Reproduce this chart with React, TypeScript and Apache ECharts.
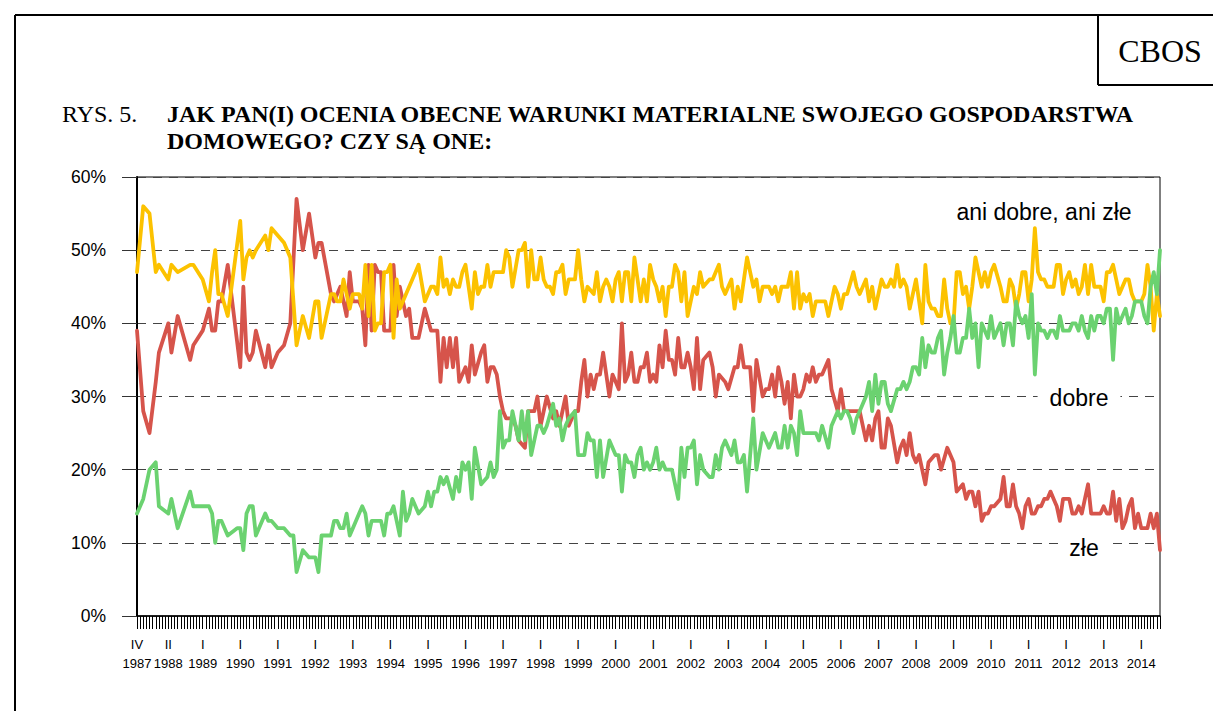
import React, { useEffect, useRef } from "react";
import * as echarts from "echarts";

// ---- DATA ----
const START_YEAR = 1987;
const START_MONTH = 4;
const N_MONTHS = 328;
const months: string[] = Array.from({ length: N_MONTHS }, (_, i) => {
  const m = START_MONTH - 1 + i;
  return `${START_YEAR + Math.floor(m / 12)}-${String((m % 12) + 1).padStart(2, "0")}`;
});
const labelMonths = [
  "1987-04", "1988-02", "1989-01", "1990-01", "1991-01", "1992-01", "1993-01", "1994-01",
  "1995-01", "1996-01", "1997-01", "1998-01", "1999-01", "2000-01", "2001-01", "2002-01",
  "2003-01", "2004-01", "2005-01", "2006-01", "2007-01", "2008-01", "2009-01", "2010-01",
  "2011-01", "2012-01", "2013-01", "2014-01",
];
const roman = ["I", "II", "III", "IV", "V", "VI", "VII", "VIII", "IX", "X", "XI", "XII"];

// [month index from 1987-04, value %]
const aniDobreAniZle: [number, number][] = [
  [0,47],[2,56],[4,55],[6,47],[7,48],[10,46],[11,48],[13,47],[17,48],[18,48],[21,46],[23,43],[24,47],[25,50],[26,44],[27,44],[29,41],[33,54],[34,46],[35,49],[36,50],[37,49],[38,50],[41,52],[42,50],[43,53],[45,52],[47,51],[49,49],[51,37],[53,41],[55,38],[57,43],[58,43],[59,38],
  [62,44],[63,44],[64,43],[65,43],[66,46],[67,44],[68,42],[69,44],[71,44],[72,42],[73,48],[74,41],[75,48],[76,39],[77,40],[78,40],[79,47],[80,47],[81,48],[82,38],[83,46],[84,42],[86,44],[88,46],[90,48],[92,43],[94,45],[95,45],[96,44],[97,49],[98,45],[99,46],[100,44],[101,46],[102,45],[103,45],[104,47],[105,48],[107,42],[108,47],[109,44],[110,45],
  [111,45],[112,48],[113,45],[114,47],[115,47],[117,47],[118,50],[119,49],[120,45],[122,50],[123,50],[124,51],[125,45],[126,50],[127,46],[128,46],[129,49],[130,46],[131,45],[132,45],[133,44],[134,47],[135,47],[136,48],[137,44],[138,46],[140,46],[141,50],[142,46],[143,43],[144,45],[146,44],[147,47],[148,43],[149,45],[150,46],[151,45],[152,43],[153,46],[154,47],[155,43],[156,47],[157,47],[158,43],[159,49],[160,46],
  [161,43],[162,46],[163,43],[164,48],[165,46],[166,45],[167,43],[168,45],[169,41],[170,45],[171,45],[172,48],[173,47],[174,43],[175,47],[176,41],[177,43],[178,45],[179,44],[180,47],[181,45],[183,46],[184,46],[185,47],[186,48],[187,45],[188,44],[190,46],[191,42],[192,45],[193,43],[195,49],[196,47],[197,45],[198,46],[199,43],[200,45],[201,45],[202,45],[203,44],[204,45],[205,43],[206,45],[208,45],[209,47],[210,42],
  [211,47],[212,42],[213,44],[214,43],[215,44],[216,41],[217,43],[218,43],[219,43],[220,43],[221,41],[223,45],[224,44],[225,42],[226,44],[227,44],[229,47],[230,45],[231,44],[233,46],[234,43],[235,45],[236,42],[238,46],[239,45],[240,45],[241,46],[242,45],[243,48],[244,45],[245,46],[246,45],[247,42],[249,46],[251,40],[252,48],[253,43],[254,42],[255,42],[256,41],[257,41],[258,46],[259,42],[260,40],
  [261,40],[262,47],[263,47],[264,44],[265,45],[266,42],[267,45],[268,49],[270,45],[271,47],[272,45],[273,47],[274,48],[276,45],[277,43],[278,43],[279,46],[280,45],[281,42],[282,44],[283,47],[284,47],[285,43],[286,46],[287,53],[288,47],[289,46],[290,46],[291,45],[292,45],[293,45],[294,48],[295,48],[296,44],[297,46],[298,47],[299,45],[300,46],
  [301,44],[302,45],[303,48],[304,44],[305,48],[306,45],[307,45],[308,45],[309,43],[310,47],[311,47],[312,48],[313,46],[314,44],[315,45],[316,46],[317,46],[318,44],[319,43],[320,43],[321,43],[322,44],[323,48],[324,45],[325,39],[326,44],[327,41],
];

const zle: [number, number][] = [
  [0,39],[2,28],[4,25],[6,32],[7,36],[10,40],[11,36],[13,41],[17,35],[18,37],[21,39],[23,42],[24,39],[25,39],[26,43],[27,43],[29,48],[33,34],[34,45],[35,36],[36,35],[37,36],[38,39],[41,34],[42,37],[43,34],[45,36],[47,37],[49,40],[51,57],[53,50],[55,55],[57,49],[58,51],[59,51],
  [62,44],[63,43],[64,44],[65,45],[66,43],[67,41],[68,47],[69,43],[71,43],[72,42],[73,37],[74,48],[75,39],[76,48],[77,47],[78,47],[79,39],[80,39],[81,39],[82,48],[83,41],[84,45],[86,41],[87,42],[88,38],[90,38],[92,42],[94,39],[95,39],[96,39],[97,32],[98,38],[99,34],[100,38],[101,34],[102,38],[103,32],[105,34],[106,32],[107,37],[108,33],[110,36],
  [111,37],[112,32],[113,34],[114,34],[115,33],[116,30],[117,28],[118,27],[120,27],[121,26],[122,24],[124,23],[125,28],[127,28],[128,30],[129,26],[131,30],[133,27],[134,28],[135,26],[137,30],[138,26],[140,28],[141,28],[142,32],[143,35],[144,30],[145,33],[146,31],[147,33],[148,33],[149,36],[150,33],[151,30],[152,33],[153,32],[154,31],[155,40],[156,32],[157,33],[158,36],[159,32],[160,32],
  [161,34],[162,34],[163,36],[164,32],[165,33],[166,32],[167,37],[168,34],[169,39],[170,35],[171,35],[172,33],[173,38],[174,34],[175,34],[176,36],[177,34],[178,31],[179,38],[180,31],[181,35],[183,36],[184,34],[185,30],[186,33],[188,32],[189,31],[191,34],[192,34],[193,37],[194,34],[195,34],[196,34],[197,28],[198,35],[200,30],[201,31],[202,31],[203,33],[204,30],[205,34],[206,32],[207,29],[208,32],[209,27],[210,33],
  [211,30],[212,30],[213,31],[214,33],[215,32],[216,34],[217,32],[218,33],[219,33],[221,35],[222,31],[224,28],[225,31],[226,28],[227,28],[228,28],[229,28],[230,28],[231,28],[233,24],[234,26],[235,24],[236,27],[237,28],[238,23],[239,23],[240,27],[241,26],[243,21],[244,23],[245,24],[246,22],[247,25],[248,22],[249,21],[250,22],[252,18],[253,21],[255,22],[256,22],[257,20],[259,23],[260,22],
  [261,21],[262,17],[264,18],[265,16],[266,17],[267,17],[268,15],[269,17],[270,13],[271,14],[272,14],[273,15],[274,15],[276,16],[277,19],[278,15],[279,15],[280,18],[281,15],[282,14],[283,12],[284,15],[285,16],[286,14],[287,14],[288,15],[289,15],[290,16],[291,16],[292,17],[293,16],[294,15],[295,13],[296,16],[297,16],[298,16],[299,14],[300,14],
  [301,15],[302,14],[303,16],[304,18],[305,14],[306,14],[307,14],[308,14],[309,15],[310,14],[311,14],[312,17],[313,13],[314,16],[315,12],[316,13],[317,15],[318,16],[319,12],[320,14],[321,12],[322,12],[323,12],[324,14],[325,12],[326,14],[327,9],
];

const dobre: [number, number][] = [
  [0,14],[2,16],[4,20],[6,21],[7,15],[10,14],[11,16],[13,12],[17,17],[18,15],[21,15],[23,15],[24,14],[25,10],[26,13],[27,13],[29,11],[32,12],[33,12],[34,9],[35,14],[36,15],[37,15],[38,11],[41,14],[42,13],[43,13],[45,12],[47,12],[49,11],[50,11],[51,6],[53,9],[55,8],[57,8],[58,6],[59,11],
  [62,11],[63,13],[64,13],[65,12],[66,12],[67,14],[68,11],[69,12],[71,14],[72,15],[73,14],[74,11],[75,13],[77,13],[78,13],[79,11],[80,14],[81,14],[82,15],[83,13],[84,11],[85,17],[86,13],[87,14],[88,16],[90,14],[92,15],[93,17],[94,15],[95,17],[96,17],[97,19],[98,18],[99,19],[101,16],[102,19],[103,17],[104,21],[105,20],[106,21],[107,16],[108,23],[110,18],
  [112,19],[113,21],[114,19],[115,20],[116,28],[117,23],[118,24],[119,24],[120,28],[121,26],[122,24],[123,28],[124,24],[125,28],[126,22],[127,24],[128,26],[129,26],[130,25],[131,26],[133,29],[134,26],[135,27],[136,24],[137,26],[138,27],[140,28],[141,22],[143,22],[144,25],[145,24],[146,24],[147,19],[148,24],[149,19],[151,24],[153,22],[154,22],[155,17],[156,22],[157,21],[158,21],[159,19],[160,22],
  [161,23],[162,20],[163,21],[164,20],[165,21],[166,23],[167,20],[168,21],[169,20],[170,20],[171,20],[172,18],[173,16],[174,23],[175,19],[176,23],[177,23],[178,24],[179,18],[180,22],[181,20],[183,19],[184,19],[185,22],[186,20],[187,23],[188,24],[190,22],[191,24],[192,21],[193,21],[194,22],[195,17],[197,27],[198,20],[200,25],[201,24],[202,23],[203,24],[204,25],[205,23],[206,23],[207,26],[208,23],[209,26],[210,25],
  [211,22],[212,28],[213,25],[215,25],[216,25],[217,25],[218,24],[219,26],[221,23],[222,26],[224,28],[225,27],[226,28],[227,28],[228,27],[229,25],[230,27],[231,28],[233,30],[234,32],[235,28],[236,33],[237,29],[238,32],[239,32],[240,29],[241,28],[243,31],[244,31],[245,32],[246,31],[247,32],[248,34],[249,34],[250,33],[251,38],[252,34],[253,37],[254,36],[255,36],[256,38],[257,39],[258,33],[259,36],[260,38],
  [261,41],[262,36],[263,36],[264,38],[265,38],[266,42],[267,38],[268,40],[269,34],[270,40],[271,39],[272,38],[273,41],[274,38],[276,40],[277,37],[278,40],[279,40],[280,37],[281,43],[282,41],[283,40],[284,41],[285,38],[286,44],[287,33],[288,40],[289,39],[290,39],[291,38],[292,39],[293,39],[294,38],[295,41],[296,39],[297,39],[298,39],[299,40],[300,40],
  [301,39],[302,41],[303,39],[304,38],[305,41],[306,39],[307,41],[308,41],[309,40],[310,42],[311,42],[312,35],[313,42],[314,40],[315,41],[316,42],[317,40],[318,41],[319,43],[320,43],[321,43],[322,41],[323,40],[324,45],[325,47],[326,44],[327,50],
];

const yTicks = [0, 10, 20, 30, 40, 50, 60];

const SANS = "'Liberation Sans', Arial, sans-serif";
const SERIF = "'Liberation Serif', 'Times New Roman', serif";

export default function App() {
  const ref = useRef<HTMLDivElement>(null);
  useEffect(() => {
    if (!ref.current) return;
    const chart = echarts.init(ref.current, undefined, { renderer: "svg" });
    const labelSet = new Set(labelMonths);
    const lineSeries = (name: string, data: [number, number][], color: string, z: number) => ({
      name,
      type: "line",
      data,
      showSymbol: false,
      symbol: "none",
      connectNulls: true,
      z,
      lineStyle: { color, width: 3.8, join: "round", cap: "round" },
      itemStyle: { color },
    });
    chart.setOption({
      animation: false,
      backgroundColor: "#fff",
      grid: {
        left: 137,
        right: 53,
        top: 177,
        bottom: 95,
        show: true,
        borderColor: "#000",
        borderWidth: 1,
        backgroundColor: "transparent",
      },
      xAxis: {
        type: "category",
        data: months,
        boundaryGap: false,
        axisLine: { show: true, lineStyle: { color: "#000", width: 1.5 } },
        axisTick: { show: true, interval: 0, length: 13, lineStyle: { color: "#000", width: 1 } },
        axisLabel: {
          interval: (_i: number, v: string) => labelSet.has(v),
          formatter: (v: string) => {
            const [y, m] = v.split("-");
            return roman[parseInt(m, 10) - 1] + "\n" + y;
          },
          fontFamily: SANS,
          fontSize: 13,
          color: "#000",
          lineHeight: 19,
          margin: 19,
        },
        splitLine: { show: false },
      },
      yAxis: {
        type: "value",
        min: yTicks[0],
        max: yTicks[yTicks.length - 1],
        interval: 10,
        axisLine: { show: true, lineStyle: { color: "#000", width: 2 } },
        axisTick: { show: true, length: 15, lineStyle: { color: "#333", width: 1 } },
        axisLabel: {
          formatter: "{value}%",
          fontFamily: SANS,
          fontSize: 17.5,
          color: "#000",
          margin: 31,
        },
        splitLine: { show: true, lineStyle: { color: "#444", width: 1.2, type: [9, 7] } },
      },
      series: [
        lineSeries("złe", zle, "#D6544B", 3),
        lineSeries("ani dobre, ani złe", aniDobreAniZle, "#FCC200", 4),
        lineSeries("dobre", dobre, "#6BD270", 5),
      ],
      graphic: [
        { type: "line", shape: { x1: 15, y1: 15, x2: 1213, y2: 15 }, style: { stroke: "#000", lineWidth: 2 } },
        { type: "line", shape: { x1: 15, y1: 15, x2: 15, y2: 711 }, style: { stroke: "#000", lineWidth: 2 } },
        { type: "line", shape: { x1: 1098, y1: 15, x2: 1098, y2: 85 }, style: { stroke: "#000", lineWidth: 2 } },
        { type: "line", shape: { x1: 1098, y1: 85, x2: 1213, y2: 85 }, style: { stroke: "#000", lineWidth: 2 } },
        {
          type: "text", x: 1160, y: 51,
          style: { text: "CBOS", fill: "#000", font: `32px ${SERIF}`, align: "center", verticalAlign: "middle" },
        },
        {
          type: "text", x: 62, y: 114,
          style: { text: "RYS. 5.", fill: "#000", font: `24px ${SERIF}`, align: "left", verticalAlign: "middle" },
        },
        {
          type: "text", x: 167, y: 114,
          style: {
            text: "JAK PAN(I) OCENIA OBECNE WARUNKI MATERIALNE SWOJEGO GOSPODARSTWA",
            fill: "#000", font: `bold 24px ${SERIF}`, align: "left", verticalAlign: "middle",
          },
        },
        {
          type: "text", x: 167, y: 141,
          style: {
            text: "DOMOWEGO? CZY SĄ ONE:",
            fill: "#000", font: `bold 24px ${SERIF}`, align: "left", verticalAlign: "middle",
          },
        },
        {
          type: "text", x: 1044, y: 212, z: 10,
          style: { text: "ani dobre, ani złe", fill: "#000", font: `23px ${SANS}`, align: "center", verticalAlign: "middle" },
        },
        {
          type: "text", x: 1079, y: 398, z: 10,
          style: {
            text: "dobre", fill: "#000", font: `23px ${SANS}`, align: "center", verticalAlign: "middle",
            backgroundColor: "#fff", padding: [2, 12, 2, 12],
          },
        },
        {
          type: "text", x: 1084, y: 548, z: 10,
          style: {
            text: "złe", fill: "#000", font: `23px ${SANS}`, align: "center", verticalAlign: "middle",
            backgroundColor: "#fff", padding: [2, 10, 2, 10],
          },
        },
      ],
    });
    return () => chart.dispose();
  }, []);
  return (
    <div
      ref={ref}
      style={{ position: "fixed", left: 0, top: 0, width: 1213, height: 711, background: "#fff" }}
    />
  );
}
